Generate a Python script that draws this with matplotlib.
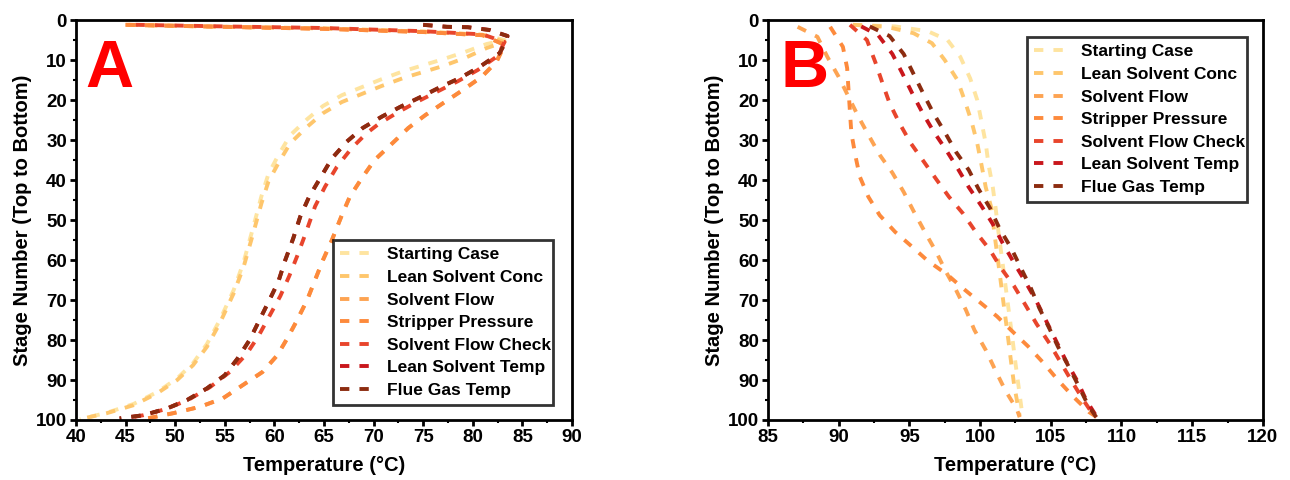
import matplotlib
matplotlib.use("Agg")
import matplotlib.pyplot as plt
from matplotlib.ticker import MultipleLocator

plt.rcParams['font.family'] = ['Liberation Sans', 'DejaVu Sans']
plt.rcParams['font.weight'] = 'bold'

case_names = ["Starting Case", "Lean Solvent Conc", "Solvent Flow", "Stripper Pressure",
              "Solvent Flow Check", "Lean Solvent Temp", "Flue Gas Temp"]
case_colors = ['#FEE4A0', '#FEC66C', '#FDA352', '#FD8A3C', '#E8452C', '#C9171C', '#8C2C10']

# ---- panel A: temperature (degC) and stage number for each case ----
a_start_t = [45.3, 55.0, 65.0, 75.0, 81.0, 83.2, 81.4, 79.2, 77.0, 73.0, 70.8, 66.8, 64.9, 63.3,
             61.6, 60.4, 59.4, 58.7, 57.9, 56.9, 55.9, 54.5, 53.2, 51.8, 50.2, 48.2, 45.8, 43.1, 40.4]
a_start_s = [1.2, 1.7, 2.1, 2.9, 3.7, 5.0, 6.0, 8.0, 9.8, 12.8, 14.8, 18.8, 21.5, 24.8,
             28.8, 33.8, 38.5, 44.0, 51.5, 60.5, 67.5, 75.0, 81.0, 85.8, 89.6, 93.0, 96.0, 98.2, 99.8]

a_conc_t = [45.3, 55.0, 65.0, 75.0, 81.0, 83.2, 81.4, 79.2, 77.0, 73.0, 70.8, 66.8, 64.9, 63.3,
            61.6, 60.4, 59.4, 58.7, 57.9, 56.9, 55.9, 54.5, 53.2, 51.8, 50.2, 48.2, 45.8, 43.1, 40.4]
a_conc_s = [1.2, 1.7, 2.1, 2.9, 3.7, 5.5, 7.0, 9.5, 11.5, 14.5, 16.5, 20.5, 23.3, 26.7,
            30.8, 35.8, 40.4, 45.8, 53.0, 61.7, 68.3, 75.8, 81.7, 86.3, 90.0, 93.3, 96.3, 98.3, 99.8]

a_press_t = [45.0, 55.0, 65.0, 75.0, 81.0, 83.2, 82.4, 80.9, 79.0, 77.0, 75.2, 73.5, 71.9, 70.1,
             68.8, 67.6, 66.8, 65.8, 64.9, 64.1, 63.3, 62.3, 61.3, 60.3, 58.8, 56.8, 54.8, 52.5, 49.8, 47.2]
a_press_s = [1.2, 1.7, 2.2, 3.0, 3.8, 6.2, 10.4, 14.2, 17.5, 20.8, 23.8, 27.0, 30.8, 35.0,
             39.6, 44.2, 48.8, 55.0, 60.0, 65.0, 70.0, 75.0, 79.6, 83.8, 88.0, 91.3, 94.6, 96.7, 98.3, 99.6]
a_flow_t = a_press_t
a_flow_s = a_press_s

a_check_t = [46.0, 55.0, 65.0, 75.0, 81.0, 83.2, 82.5, 80.5, 78.5, 76.5, 74.5, 72.5, 70.5, 69.3,
             67.8, 66.3, 65.1, 64.1, 63.2, 62.3, 61.5, 60.6, 59.5, 58.4, 57.2, 55.5, 53.5, 51.3, 49.0, 46.8, 45.0]
a_check_s = [1.2, 1.6, 2.0, 2.8, 3.6, 5.5, 9.0, 12.5, 15.3, 17.8, 20.3, 23.0, 26.0, 28.3,
             32.0, 36.7, 41.7, 46.6, 53.0, 59.0, 64.0, 69.0, 74.0, 79.0, 83.5, 88.0, 91.8, 95.0, 97.3, 98.8, 99.6]

a_lean_t = [75.0, 77.4, 79.5, 81.7, 83.5, 83.3, 82.7, 80.7, 78.7, 76.7, 74.7, 72.7, 70.8, 68.9, 67.3,
            65.8, 64.6, 63.5, 62.6, 61.9, 61.1, 60.4, 59.5, 58.5, 57.5, 56.3, 55.0, 53.2, 51.2, 49.2, 46.8, 44.4]
a_lean_s = [1.2, 1.7, 1.8, 2.5, 4.0, 5.5, 8.3, 11.7, 14.5, 16.8, 19.3, 21.7, 24.2, 27.0, 30.4,
            34.6, 39.6, 44.2, 49.2, 54.6, 60.0, 65.4, 70.0, 75.0, 80.0, 84.6, 88.8, 92.1, 95.0, 97.1, 98.8, 99.6]

a_flue_t = [75.0, 77.4, 79.5, 81.7, 83.5, 83.3, 82.7, 80.7, 78.7, 76.7, 74.7, 72.7, 70.8, 68.9, 67.3,
            65.8, 64.6, 63.5, 62.6, 61.9, 61.1, 60.4, 59.5, 58.5, 57.5, 56.3, 55.0, 53.2, 51.2, 49.2, 46.8, 44.4]
a_flue_s = [1.2, 1.7, 1.8, 2.5, 4.0, 5.5, 8.3, 11.7, 14.5, 16.8, 19.3, 21.7, 24.2, 27.0, 30.4,
            34.6, 39.6, 44.2, 49.2, 54.6, 60.0, 65.4, 70.0, 75.0, 80.0, 84.6, 88.8, 92.1, 95.0, 97.1, 98.8, 99.6]

# ---- panel B ----
b_start_t = [91.0, 94.0, 96.3, 97.7, 98.6, 99.3, 99.8, 100.1, 100.4, 100.6, 100.9, 101.1, 101.3,
             101.5, 101.7, 101.9, 102.1, 102.3, 102.5, 102.7, 103.0]
b_start_s = [1.2, 1.6, 2.8, 5.0, 9.2, 14.6, 20.0, 25.4, 30.8, 36.2, 41.8, 47.0, 53.0,
             58.3, 63.7, 69.2, 74.6, 80.0, 85.7, 91.0, 99.0]
b_conc_t = [91.0, 93.4, 95.3, 96.6, 97.5, 98.4, 98.9, 99.4, 99.8, 100.1, 100.4, 100.8, 101.0,
            101.2, 101.4, 101.6, 101.8, 102.0, 102.2, 102.4, 102.8]
b_conc_s = [1.2, 1.7, 3.3, 5.8, 10.0, 15.0, 20.0, 25.4, 30.8, 36.2, 41.8, 47.0, 53.0,
            58.3, 63.7, 69.2, 74.6, 80.0, 85.7, 91.0, 99.0]

b_flow_t = [87.1, 88.5, 89.2, 90.0, 90.7, 91.4, 92.1, 92.9, 93.8, 94.6, 95.3, 96.1, 96.9,
            97.6, 98.3, 99.0, 99.6, 100.4, 101.1, 101.8, 102.6, 102.8]
b_flow_s = [1.7, 4.2, 9.2, 14.2, 19.2, 24.2, 28.7, 33.7, 38.2, 43.0, 47.8, 53.0, 58.0,
            63.0, 67.5, 72.5, 77.5, 82.5, 87.7, 92.7, 97.3, 99.3]

b_press_t = [89.4, 90.3, 90.6, 90.7, 90.8, 90.9, 91.2, 91.5, 92.1, 92.9, 94.0, 95.2, 96.3,
             97.7, 98.8, 100.0, 101.2, 102.3, 103.4, 104.5, 105.5, 106.6, 107.7, 108.3]
b_press_s = [1.7, 6.7, 12.0, 17.5, 23.0, 28.3, 34.2, 39.2, 44.2, 48.8, 53.0, 56.7, 60.2,
             63.7, 67.1, 70.6, 74.1, 77.9, 81.6, 85.8, 90.0, 94.2, 98.0, 99.4]

b_check_t = [90.8, 92.0, 92.6, 93.1, 93.6, 94.3, 95.1, 96.0, 96.9, 97.8, 98.8, 99.7, 100.7,
             101.5, 102.4, 103.2, 104.0, 104.9, 105.7, 106.5, 107.3, 108.1]
b_check_s = [1.2, 5.0, 10.6, 15.8, 20.8, 25.8, 30.8, 35.3, 39.8, 44.2, 48.4, 53.0, 57.5,
             62.1, 66.5, 71.2, 76.0, 80.8, 85.6, 90.4, 95.0, 99.2]

b_lean_t = [91.6, 92.8, 93.8, 94.5, 95.2, 95.9, 96.7, 97.6, 98.4, 99.2, 100.1, 100.9, 101.6,
            102.4, 103.2, 104.0, 104.7, 105.4, 106.1, 106.9, 107.5, 108.3]
b_lean_s = [1.6, 3.8, 8.5, 13.3, 18.3, 23.0, 27.8, 32.5, 37.0, 41.8, 46.5, 51.0, 55.8,
            60.7, 65.4, 70.4, 75.4, 80.4, 85.4, 90.4, 95.0, 99.5]

b_flue_t = [92.2, 93.6, 94.6, 95.3, 96.0, 96.7, 97.5, 98.3, 99.2, 99.9, 100.7, 101.4, 102.2,
            102.9, 103.6, 104.2, 104.9, 105.5, 106.2, 106.9, 107.6, 108.3]
b_flue_s = [1.6, 4.0, 8.5, 13.5, 18.5, 23.3, 28.0, 33.0, 37.5, 42.3, 47.0, 52.3, 57.0,
            62.1, 67.1, 72.1, 77.1, 81.6, 86.2, 91.0, 96.0, 99.8]

panel_a = [(a_start_t, a_start_s), (a_conc_t, a_conc_s), (a_flow_t, a_flow_s), (a_press_t, a_press_s),
           (a_check_t, a_check_s), (a_lean_t, a_lean_s), (a_flue_t, a_flue_s)]
panel_b = [(b_start_t, b_start_s), (b_conc_t, b_conc_s), (b_flow_t, b_flow_s), (b_press_t, b_press_s),
           (b_check_t, b_check_s), (b_lean_t, b_lean_s), (b_flue_t, b_flue_s)]

dash = (0, (2.4, 2.6))

fig = plt.figure(figsize=(12.9, 4.8), dpi=100)
ax_a = fig.add_axes([0.0589, 0.125, 0.3845, 0.8333])
ax_b = fig.add_axes([0.5953, 0.125, 0.3837, 0.8333])


def style_axis(ax, xlim, xmajor):
    ax.set_xlim(*xlim)
    ax.set_ylim(100, 0)
    ax.xaxis.set_major_locator(MultipleLocator(xmajor))
    ax.xaxis.set_minor_locator(MultipleLocator(xmajor / 2))
    ax.yaxis.set_major_locator(MultipleLocator(10))
    ax.yaxis.set_minor_locator(MultipleLocator(5))
    for sp in ax.spines.values():
        sp.set_linewidth(2.0)
    ax.tick_params(which='major', direction='out', length=4.5, width=2, labelsize=13.5, pad=2)
    ax.tick_params(which='minor', direction='out', length=2.5, width=1.5)
    ax.set_xlabel("Temperature (°C)", fontsize=14.5, fontweight='bold', labelpad=7)
    ax.set_ylabel("Stage Number (Top to Bottom)", fontsize=14.5, fontweight='bold', labelpad=3)
    for lbl in ax.get_xticklabels() + ax.get_yticklabels():
        lbl.set_fontweight('bold')


for ax, data, xlim, xmajor, tag, tag_x, leg_anchor in [
        (ax_a, panel_a, (40, 90), 5, "A", 0.068, (0.519, 0.0375, 0.443, 0.405)),
        (ax_b, panel_b, (85, 120), 5, "B", 0.073, (0.523, 0.545, 0.445, 0.413))]:
    for (t, s), name, col in zip(data, case_names, case_colors):
        ax.plot(t, s, linestyle=dash, color=col, lw=2.8, label=name)
    style_axis(ax, xlim, xmajor)
    ax.text(tag_x, 0.875, tag, transform=ax.transAxes, color='red', fontsize=48,
            fontweight='bold', ha='center', va='center')
    leg = ax.legend(loc='lower left', bbox_to_anchor=leg_anchor, mode='expand', fontsize=12.5,
                    frameon=True, fancybox=False, edgecolor='black', handlelength=1.9,
                    handletextpad=0.8, borderpad=0.4, labelspacing=0.43, borderaxespad=0)
    leg.get_frame().set_linewidth(2.0)
    for txt in leg.get_texts():
        txt.set_fontweight('bold')

fig.savefig("out.png", dpi=100)
